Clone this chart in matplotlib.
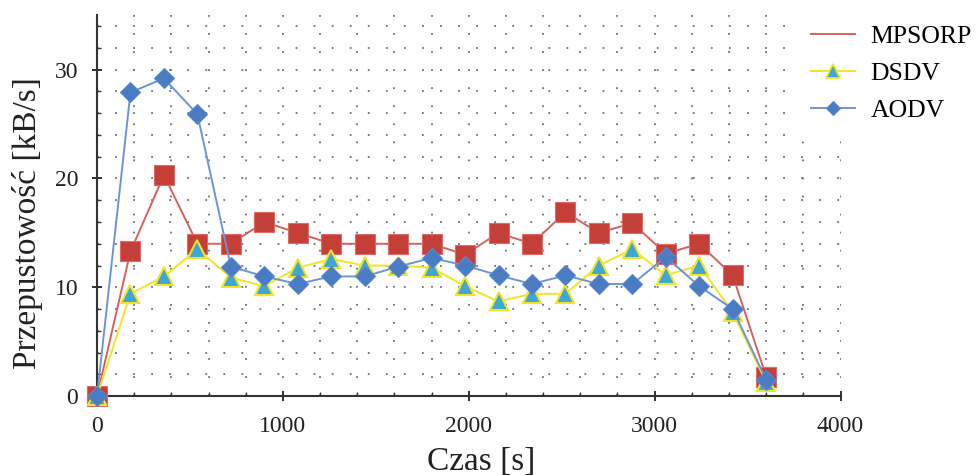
import matplotlib
matplotlib.use("Agg")
import matplotlib.pyplot as plt
from matplotlib.ticker import MultipleLocator

plt.rcParams['font.family'] = ['Liberation Serif', 'DejaVu Serif']

# sampling times [s]
czas = [0, 180, 360, 540, 720, 900, 1080, 1260, 1440, 1620, 1800,
        1980, 2160, 2340, 2520, 2700, 2880, 3060, 3240, 3420, 3600]

# throughput [kB/s] per protocol
mpsorp = [0.0, 13.3, 20.3, 14.0, 14.0, 16.0, 15.0, 14.0, 14.0, 14.0, 14.0,
          13.0, 15.0, 14.0, 16.9, 15.0, 15.9, 13.1, 14.0, 11.1, 1.8]
dsdv = [0.0, 9.4, 11.0, 13.5, 10.9, 10.1, 11.8, 12.6, 12.0, 12.0, 11.8,
        10.1, 8.7, 9.4, 9.4, 12.0, 13.5, 11.1, 12.0, 7.7, 1.3]
aodv = [0.0, 27.9, 29.2, 25.9, 11.9, 11.0, 10.3, 11.0, 11.0, 11.9, 12.7,
        12.0, 11.1, 10.3, 11.1, 10.3, 10.3, 12.8, 10.1, 8.0, 1.5]

fig = plt.figure(figsize=(9.77, 4.75), dpi=100)
ax = fig.add_axes([0.0993, 0.166, 0.761, 0.802])

ax.plot(czas, mpsorp, color='#d9605c', lw=1.4, marker='s', ms=15,
        mfc='#c43f38', mec='#e06a66', mew=0.8, clip_on=False, zorder=3)
ax.plot(czas, dsdv, color='#f2e527', lw=1.4, marker='^', ms=13,
        mfc='#3fa6d6', mec='#f2e527', mew=1.5, clip_on=False, zorder=4)
ax.plot(czas, aodv, color='#6b96d4', lw=1.4, marker='D', ms=10,
        mfc='#4a7cc4', mec='#5a88cc', mew=0.8, clip_on=False, zorder=5)

ax.set_xlim(0, 4000)
ax.set_ylim(0, 35)
ax.xaxis.set_major_locator(MultipleLocator(1000))
ax.xaxis.set_minor_locator(MultipleLocator(200))
ax.yaxis.set_major_locator(MultipleLocator(10))
ax.yaxis.set_minor_locator(MultipleLocator(2))

ax.grid(which='both', color='#707070', lw=1.3, ls=(0, (1, 9)))
ax.set_axisbelow(True)

for s in ['top', 'right']:
    ax.spines[s].set_visible(False)
for s in ['left', 'bottom']:
    ax.spines[s].set_color('#333333')
    ax.spines[s].set_linewidth(1.5)

ax.tick_params(which='major', direction='inout', length=7, width=1.3,
               labelsize=17, colors='#222222')
ax.tick_params(axis='x', which='major', pad=11)
ax.tick_params(axis='y', which='major', pad=10)
ax.tick_params(which='minor', direction='in', length=3, width=1.0,
               colors='#333333')
ax.set_xticks([0, 1000, 2000, 3000, 4000])
ax.set_yticks([0, 10, 20, 30])

ax.set_xlabel('Czas [s]', fontsize=24, color='#222222')
ax.xaxis.set_label_coords(0.517, -0.132)
ax.set_ylabel('Przepustowość [kB/s]', fontsize=24, color='#222222',
              va='center')
ax.yaxis.set_label_coords(-0.093, 0.454)

# legend: MPSORP is shown as a bare line
h_m, = ax.plot([], [], color='#d9605c', lw=1.4)
h_d, = ax.plot([], [], color='#f2e527', lw=1.4, marker='^', ms=10,
               mfc='#3fa6d6', mec='#f2e527', mew=1.3)
h_a, = ax.plot([], [], color='#6b96d4', lw=1.4, marker='D', ms=7.5,
               mfc='#4a7cc4', mec='#5a88cc', mew=0.8)
leg = fig.legend([h_m, h_d, h_a], ['MPSORP', 'DSDV', 'AODV'],
                 loc='upper left', bbox_to_anchor=(0.812, 0.985),
                 fontsize=18.5, frameon=True, handlelength=1.7,
                 handletextpad=0.6, labelspacing=0.55, borderpad=0.7,
                 borderaxespad=0)
leg.get_frame().set_facecolor('white')
leg.get_frame().set_edgecolor('white')
leg.get_frame().set_alpha(1.0)

fig.savefig('out.png', dpi=100)
